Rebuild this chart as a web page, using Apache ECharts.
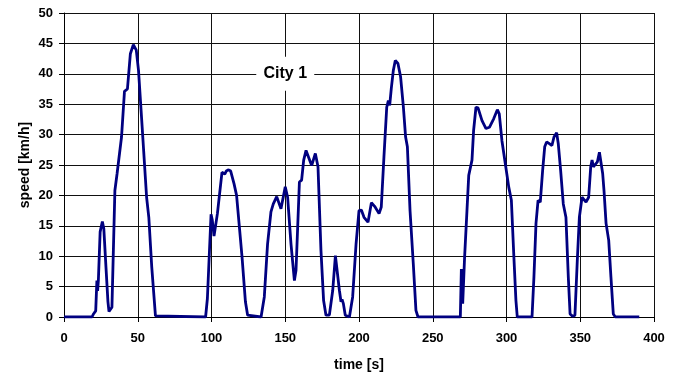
<!DOCTYPE html>
<html>
<head>
<meta charset="utf-8">
<script src="https://cdn.jsdelivr.net/npm/echarts@6/dist/echarts.min.js"></script>
<style>
  html, body { margin: 0; padding: 0; background: #fff; }
  #chart { width: 678px; height: 375px; }
</style>
</head>
<body>
<div id="chart"></div>
<script>
// City 1 driving cycle
const timeS = [
  0, 19, 20, 21.5, 22.3, 22.8, 23.3, 24.5, 26, 27, 28.5, 29.8, 30.5, 31.5, 32.5, 34.5, 36, 37, 39, 41, 43, 45, 47, 49, 50.5, 53, 56, 57.5, 59.5, 62, 63,
  96, 97.2, 99.7, 100.5, 101.7, 102.6, 104, 107.1, 108, 109, 110, 111.6, 113, 115.3, 117, 120.7, 123, 124.5, 125.5,
  133.6, 135.8, 138, 140.3, 141.9, 144.2, 147.1, 150, 151.6, 153.9, 156.2, 157.3, 159.6, 161.1, 162.5, 164.1, 165.4, 167.9, 170.4, 172.2, 174.2, 176, 177.6,
  179.9, 182.2, 184, 185.1, 186.7, 187.8, 188.5, 189.4, 190.7, 193.5, 195.7, 198,
  200, 201.6, 203.4, 206.1, 208.4, 210.6, 213.6, 215.1, 216.9, 218.8, 219.9, 220.8, 221.9, 223.3, 224.6, 226.4, 228.2, 230.1, 231.6, 232.8, 234.6, 236.8, 238.6, 240,
  268.7, 269.4, 270.3, 271, 271.6, 273.2, 274.4, 275.5, 276.6, 277.7, 279.3, 280.7, 283.4, 286.1, 288.4, 291.3, 293.8, 295.1, 296.9, 299.2, 301.5, 303.3, 304.9, 306.4, 307.3,
  317.3, 318.6, 320, 321.4, 322.9, 324.5, 325.9, 327.2, 329, 330.8, 332.2, 334, 335.1, 336.7, 338.5, 340.3, 341.9, 343.1, 344.9, 346.4,
  348, 349.4, 351.2, 352.5, 353.9, 355.7, 357.1, 358, 358.9, 360, 361.6, 363, 363.8, 365.2, 366.1, 367.5, 369.3, 370.8, 372.4, 373.8, 390
];
const speedKmh = [
  0, 0, 0.5, 1, 6, 4.3, 6, 14, 15.7, 14.5, 8, 2.5, 0.9, 1, 1.6, 20.8, 23.6, 23.8, 29.6, 37.1, 37.5, 43.3, 44.8, 43.9, 40.6, 31.2, 19.7, 16.4, 8.2, 0.2, 0,
  0, 3, 16.9, 16, 13.3, 13.4, 17, 23.8, 24, 23.5, 24, 24.2, 24, 21.9, 20, 9.9, 2.5, 0.3, 0,
  0, 3.3, 12, 17.3, 18.6, 19.8, 17.8, 21.4, 19.7, 12, 6, 7.7, 22.2, 22.5, 25.8, 27.4, 27.1, 24.9, 26.9, 24.7, 11, 2.7, 0.3,
  0.3, 4.4, 10.1, 9.9, 4.4, 2.5, 2.9, 2.2, 0.3, 0, 3.3, 12,
  17.5, 17.6, 16.4, 15.6, 18.8, 18.2, 17, 18.1, 26.3, 34.5, 35.6, 34.8, 37.6, 40.6, 42.2, 41.7, 39.5, 34.5, 29.6, 28, 17.5, 8.8, 1.1, 0,
  0, 7.9, 2.2, 2.5, 9.9, 17.5, 23.3, 23.6, 25.8, 30.7, 34.5, 34.4, 32.3, 31, 31.2, 32.6, 34.1, 33.4, 29, 25.2, 21.4, 19.2, 10.4, 2.7, 0,
  0, 6.6, 15.4, 19.2, 18.9, 24.1, 28, 28.8, 28.5, 28.2, 29.6, 30.3, 28.5, 24.1, 18.6, 16.4, 6.6, 0.5, 0.1, 0.3,
  9.3, 16.4, 19.7, 19.5, 18.9, 19.7, 24.7, 25.8, 24.7, 24.9, 25.5, 27.1, 26.9, 23.6, 20.8, 15.4, 12.6, 6.6, 0.5, 0, 0
];

const cycleLabel = 'City 1';
const labelAt = [150, 40];

const FONT = 'Liberation Sans, Arial, sans-serif';

const chart = echarts.init(document.getElementById('chart'), null, { renderer: 'canvas' });

chart.setOption({
  animation: false,
  backgroundColor: '#fff',
  grid: { left: 64, right: 24, top: 13, bottom: 58, outerBoundsMode: 'none', containLabel: false },
  xAxis: {
    type: 'value',
    min: 0,
    max: 400,
    interval: 50,
    name: 'time [s]',
    nameLocation: 'middle',
    nameGap: 41,
    nameMoveOverlap: false,
    nameTextStyle: { fontFamily: FONT, fontWeight: 'bold', fontSize: 14, color: '#000' },
    axisLine: { lineStyle: { color: '#000', width: 1 } },
    axisTick: { show: true, length: 5, lineStyle: { color: '#000' } },
    axisLabel: { fontFamily: FONT, fontWeight: 'bold', fontSize: 13, color: '#000', margin: 15 },
    splitLine: { show: true, lineStyle: { color: '#111', width: 1 } }
  },
  yAxis: {
    type: 'value',
    min: 0,
    max: 50,
    interval: 5,
    name: 'speed [km/h]',
    nameLocation: 'middle',
    nameGap: 32,
    nameMoveOverlap: false,
    nameTextStyle: { fontFamily: FONT, fontWeight: 'bold', fontSize: 14, color: '#000' },
    axisLine: { show: true, lineStyle: { color: '#000', width: 1 } },
    axisTick: { show: true, length: 5, lineStyle: { color: '#000' } },
    axisLabel: { fontFamily: FONT, fontWeight: 'bold', fontSize: 13, color: '#000', margin: 11 },
    splitLine: { show: true, lineStyle: { color: '#111', width: 1 } }
  },
  series: [{
    type: 'line',
    data: timeS.map((t, i) => [t, speedKmh[i]]),
    showSymbol: false,
    smooth: false,
    lineStyle: { color: '#000080', width: 2.8 },
    itemStyle: { color: '#000080' },
    markPoint: {
      silent: true,
      symbol: 'rect',
      symbolSize: [58, 34],
      itemStyle: { color: '#fff' },
      label: {
        show: true,
        position: 'inside',
        formatter: cycleLabel,
        fontFamily: FONT,
        fontWeight: 'bold',
        fontSize: 16,
        color: '#000'
      },
      data: [{ coord: labelAt }]
    }
  }]
});
</script>
</body>
</html>
